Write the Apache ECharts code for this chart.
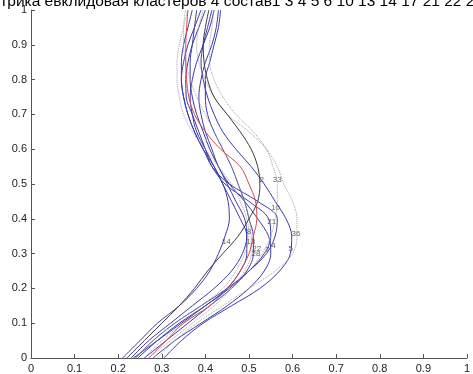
<!DOCTYPE html>
<html><head><meta charset="utf-8">
<script src="https://cdn.jsdelivr.net/npm/echarts@6/dist/echarts.min.js"></script>
<style>html,body{margin:0;padding:0;background:#fff}#c{width:473px;height:374px}</style>
</head><body><div id="c"></div>
<script>
const titleText = "Метрика евклидовая кластеров 4 состав1 3 4 5 6 10 13 14 17 21 22 28 33 36";
const yLevels = [0,0.05,0.1,0.15,0.2,0.25,0.3,0.35,0.4,0.45,0.5,0.55,0.6,0.65,0.7,0.75,0.8,0.85,0.9,0.95,1.0];
const tickLabels = ["0","0.1","0.2","0.3","0.4","0.5","0.6","0.7","0.8","0.9","1"];
// x-value of each curve at the y levels above (bottom to top)
const curveRed  = [0.27,0.31,0.35,0.41,0.45,0.48,0.50,0.51,0.518,0.515,0.50,0.48,0.435,0.40,0.375,0.362,0.357,0.355,0.355,0.357,0.36];
const curve2    = [0.22,0.26,0.30,0.34,0.375,0.405,0.44,0.475,0.50,0.52,0.525,0.52,0.505,0.48,0.45,0.42,0.405,0.397,0.395,0.40,0.408];
const curve14   = [0.21,0.25,0.29,0.34,0.38,0.41,0.43,0.445,0.455,0.452,0.44,0.42,0.395,0.375,0.36,0.35,0.345,0.345,0.35,0.36,0.37];
const curve36   = [0.29,0.33,0.38,0.44,0.50,0.56,0.60,0.61,0.61,0.60,0.58,0.565,0.54,0.50,0.45,0.42,0.40,0.385,0.38,0.385,0.395];
const curve33   = [0.26,0.30,0.35,0.41,0.46,0.50,0.53,0.55,0.56,0.565,0.565,0.555,0.54,0.51,0.47,0.44,0.42,0.41,0.41,0.415,0.42];
const curveDotL = [0.24,0.28,0.33,0.39,0.44,0.47,0.49,0.50,0.495,0.48,0.46,0.43,0.40,0.37,0.35,0.34,0.335,0.335,0.34,0.35,0.36];
const curve28   = [0.27,0.32,0.37,0.42,0.46,0.49,0.505,0.505,0.50,0.49,0.475,0.46,0.44,0.42,0.40,0.38,0.365,0.355,0.35,0.35,0.355];
const curve5    = [0.305,0.345,0.395,0.46,0.525,0.57,0.595,0.598,0.585,0.56,0.535,0.505,0.47,0.44,0.42,0.405,0.395,0.39,0.395,0.405,0.415];
const curve10   = [0.24,0.28,0.33,0.39,0.45,0.50,0.54,0.56,0.565,0.52,0.455,0.415,0.40,0.385,0.37,0.356,0.355,0.36,0.37,0.385,0.40];
const curve21   = [0.245,0.29,0.34,0.40,0.455,0.50,0.535,0.55,0.545,0.50,0.445,0.415,0.395,0.375,0.36,0.35,0.345,0.35,0.36,0.375,0.39];
const curve4    = [0.28,0.33,0.39,0.45,0.50,0.535,0.55,0.545,0.52,0.49,0.455,0.43,0.415,0.40,0.39,0.385,0.39,0.40,0.415,0.425,0.43];
const curve8    = [0.23,0.27,0.32,0.37,0.42,0.46,0.485,0.495,0.49,0.47,0.45,0.43,0.41,0.395,0.38,0.37,0.365,0.365,0.37,0.375,0.38];
const curve13   = [0.235,0.29,0.345,0.40,0.45,0.48,0.495,0.495,0.48,0.46,0.44,0.42,0.40,0.38,0.37,0.365,0.37,0.38,0.395,0.41,0.42];
const curve22   = [0.26,0.31,0.36,0.41,0.46,0.495,0.51,0.51,0.50,0.49,0.475,0.46,0.44,0.42,0.405,0.40,0.40,0.41,0.42,0.43,0.435];
// number labels placed beside the curves
const labelTexts = ["2","33","10","21","36","8","14","13","22","28","7","4","5"];
const labelX = [0.529,0.565,0.561,0.552,0.608,0.50,0.448,0.504,0.518,0.516,0.542,0.556,0.596];
const labelY = [0.511,0.511,0.432,0.392,0.358,0.364,0.335,0.335,0.315,0.30,0.312,0.321,0.3125];

const BLUE = "#3c3cab", RED = "#d84a4a", GRAY = "#a0a0a0", DARK = "#3c3c3c";
const curves = [
  [curve14, BLUE, "solid"], [curve5, BLUE, "solid"], [curve4, BLUE, "solid"],
  [curve10, BLUE, "solid"], [curve21, BLUE, "solid"], [curve8, BLUE, "solid"],
  [curve13, BLUE, "solid"], [curve22, BLUE, "solid"],
  [curve36, GRAY, "dotted"], [curve33, GRAY, "dotted"], [curve28, GRAY, "dotted"], [curveDotL, GRAY, "dotted"],
  [curve2, DARK, "solid"], [curveRed, RED, "solid"]
];
const series = curves.map(([xs, color, type]) => ({
  type: "line", smooth: 0.35, symbol: "none", silent: true,
  data: xs.map((x, i) => [x, yLevels[i]]),
  lineStyle: {color, width: 1, type}
}));
series.push({
  type: "scatter", symbolSize: 0, silent: true,
  data: labelX.map((x, i) => ({value: [x, labelY[i]], name: labelTexts[i]})),
  label: {show: true, position: "inside", formatter: p => p.name, color: "#333", fontSize: 8, fontFamily: "Arial, Liberation Sans"}
});
const chart = echarts.init(document.getElementById("c"), null, {renderer: "canvas"});
chart.setOption({
  animation: false,
  backgroundColor: "#fff",
  title: {text: titleText, left: -26, top: -11, textStyle: {fontSize: 15.5, fontWeight: "normal", color: "#000", fontFamily: "Arial, Liberation Sans"}},
  grid: {left: 31, top: 10, width: 446, height: 352},
  xAxis: {type: "value", min: 0, max: 1, interval: 0.1,
    axisLine: {lineStyle: {color: "#555"}}, splitLine: {show: false},
    axisTick: {inside: true, length: 4, lineStyle: {color: "#555"}},
    axisLabel: {color: "#222", fontSize: 11, margin: 5, fontFamily: "Arial, Liberation Sans", formatter: v => tickLabels[Math.round(v*10)]}},
  yAxis: {type: "value", min: 0, max: 1, interval: 0.1,
    axisLine: {show: true, lineStyle: {color: "#555"}}, splitLine: {show: false},
    axisTick: {show: true, inside: true, length: 4, lineStyle: {color: "#555"}},
    axisLabel: {color: "#222", fontSize: 11, margin: 4, fontFamily: "Arial, Liberation Sans", formatter: v => tickLabels[Math.round(v*10)]}},
  series
});
</script></body></html>
